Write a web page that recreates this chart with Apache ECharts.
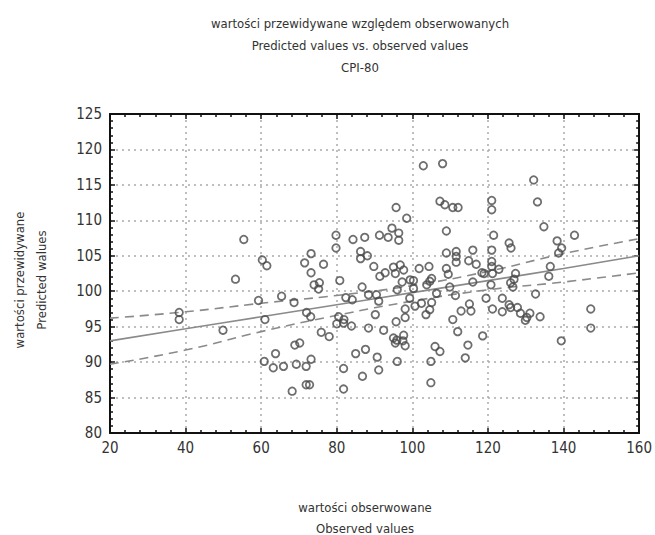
<!DOCTYPE html>
<html lang="pl">
<head>
    <meta charset="UTF-8">
    <title>CPI-80</title>
    <script src="https://cdn.jsdelivr.net/npm/echarts@6/dist/echarts.min.js"></script>
    <style>
        html, body { margin: 0; padding: 0; background: #fff; }
        #main { width: 655px; height: 535px; }
    </style>
</head>
<body>
<div id="main"></div>
<script>
    // observed / predicted pairs
    var points = [
        [38.3, 97.0], [38.3, 96.0], [49.9, 94.5], [53.2, 101.7], [55.4, 107.3], [59.3, 98.7], [60.3, 104.4], [61.5, 103.6],
        [61.0, 96.0], [60.8, 90.1], [63.8, 91.2], [63.2, 89.2], [65.9, 89.4], [65.4, 99.3], [68.7, 98.4], [68.2, 85.9],
        [69.3, 89.7], [68.9, 92.4], [70.2, 92.7], [71.9, 89.4], [73.2, 90.4], [71.9, 86.8], [72.8, 86.8], [72.0, 97.0],
        [73.1, 96.4], [73.2, 105.3], [71.5, 104.0], [76.5, 103.8], [73.2, 102.6], [74.0, 100.9], [75.2, 100.3], [75.4, 101.2],
        [75.9, 94.2], [78.0, 93.6], [79.8, 107.9], [79.8, 106.1], [84.3, 107.3], [87.4, 107.6], [91.3, 107.9], [93.6, 107.6],
        [94.6, 108.9], [96.4, 108.2], [96.4, 107.2], [95.7, 111.8], [98.5, 110.3], [102.9, 117.7], [108.0, 118.0],
        [86.3, 105.6], [86.3, 104.6], [88.1, 105.0], [89.8, 103.5], [80.8, 101.5], [82.4, 99.1], [84.1, 98.8], [86.7, 100.6],
        [88.4, 99.5], [90.5, 99.5], [91.1, 98.6], [90.2, 96.7], [80.5, 96.4], [81.9, 96.0], [80.0, 95.4], [81.8, 95.5],
        [83.9, 95.1], [88.4, 94.8], [92.4, 94.5], [95.7, 95.7], [85.0, 91.2], [87.6, 91.8], [90.7, 90.7], [91.1, 88.9],
        [86.8, 88.0], [81.8, 89.1], [81.8, 86.2], [95.0, 103.4], [96.8, 103.7], [92.8, 102.6], [91.4, 102.1], [95.5, 102.5],
        [97.7, 103.0], [95.5, 92.7], [95.0, 93.4], [95.9, 93.1], [97.5, 93.0], [98.1, 92.3], [97.7, 93.8], [96.0, 90.1],
        [98.1, 97.5], [98.1, 96.3], [100.7, 97.9], [102.4, 98.3], [105.1, 98.4], [104.6, 97.4], [103.6, 96.7],
        [96.0, 100.2], [97.3, 101.3], [99.4, 101.6], [100.3, 100.4], [103.8, 100.9], [104.6, 101.4], [106.4, 99.7], [99.3, 99.0],
        [101.8, 103.2], [104.4, 103.5], [100.3, 101.5], [105.1, 101.8], [104.9, 90.1], [104.9, 87.1], [106.0, 92.2], [107.3, 91.5],
        [107.3, 112.7], [108.6, 112.2], [110.7, 111.8], [112.1, 111.8], [109.0, 108.5], [109.0, 105.4], [111.6, 105.6],
        [111.6, 104.9], [111.6, 104.1], [116.0, 105.8], [114.9, 104.3], [116.9, 103.8], [109.0, 103.2], [109.5, 102.4],
        [109.9, 100.6], [111.4, 99.4], [116.0, 101.3], [118.4, 102.6], [119.0, 102.5], [121.0, 112.8], [121.0, 111.5],
        [133.1, 112.6], [132.1, 115.7], [134.8, 109.1], [138.3, 107.1], [139.5, 106.1], [138.7, 105.4], [142.9, 107.9],
        [121.5, 107.9], [125.6, 106.8], [126.1, 106.1], [121.0, 105.8], [121.0, 104.2], [121.0, 103.5], [122.9, 103.1],
        [121.2, 102.5], [127.3, 102.5], [126.9, 101.7], [126.6, 100.6], [136.5, 103.5], [136.1, 102.1], [120.8, 100.9],
        [126.0, 101.2], [112.9, 97.2], [115.1, 98.2], [115.5, 97.2], [110.7, 96.0], [112.0, 94.3], [114.7, 92.4], [114.0, 90.6],
        [118.6, 93.7], [119.5, 99.0], [123.8, 99.0], [125.6, 98.1], [121.2, 97.5], [123.8, 97.1], [126.0, 97.7], [127.8, 97.7],
        [128.6, 96.9], [129.9, 95.9], [130.3, 96.3], [131.1, 96.9], [133.8, 96.4], [132.6, 99.6], [147.2, 97.5], [147.2, 94.8],
        [139.4, 93.0]
    ];

    // regression line and 95% band, read at these x values
    var fitX = [20, 40, 60, 80, 100, 120, 140, 160];
    var fitLine = [93.0, 94.7, 96.4, 98.1, 99.8, 101.5, 103.2, 105.0];
    var upperBand = [96.2, 97.1, 98.3, 99.4, 100.8, 102.8, 105.3, 107.4];
    var lowerBand = [89.7, 91.7, 94.3, 96.6, 98.6, 100.2, 101.3, 102.6];

    var titleLines = ['wartości przewidywane względem obserwowanych', 'Predicted values vs. observed values', 'CPI-80'];
    var xNameLines = ['wartości obserwowane', 'Observed values'];
    var yNameLines = ['wartości przewidywane', 'Predicted walues'];

    var font = "'DejaVu Sans Condensed', 'Liberation Sans Narrow', sans-serif";

    function zip(xs, ys) {
        return xs.map(function (x, i) { return [x, ys[i]]; });
    }

    var frameAxis = {
        type: 'value',
        axisLine: { show: true, onZero: false, lineStyle: { color: '#111', width: 2 } },
        axisTick: { show: true, inside: true, length: 5, lineStyle: { color: '#111', width: 1.5 } },
        minorTick: { show: true, splitNumber: 5, length: 3, lineStyle: { color: '#111', width: 1.5 } },
        splitLine: { show: false },
        axisLabel: { show: false }
    };

    function makeAxis(extra) {
        return Object.assign(JSON.parse(JSON.stringify(frameAxis)), extra);
    }

    var labelStyle = { show: true, color: '#333', fontSize: 15, fontFamily: font };
    var gridLine = { show: true, lineStyle: { color: '#aaa', type: [2, 4], width: 1.5 } };

    var myChart = echarts.init(document.getElementById('main'), null, { renderer: 'svg' });
    var option = {
        animation: false,
        backgroundColor: '#fff',
        title: {
            text: titleLines.join('\n'),
            left: 355,
            top: 7,
            textAlign: 'center',
            textStyle: { fontFamily: font, fontSize: 13, fontWeight: 'normal', color: '#333', lineHeight: 22 }
        },
        grid: { left: 110, right: 9, top: 114, bottom: 102 },
        xAxis: [
            makeAxis({ min: 20, max: 160, interval: 20, position: 'bottom',
                axisLabel: Object.assign({ margin: 7 }, labelStyle), splitLine: gridLine }),
            makeAxis({ min: 20, max: 160, interval: 20, position: 'top' })
        ],
        yAxis: [
            makeAxis({ min: 80, max: 125, interval: 5, position: 'left',
                axisLabel: Object.assign({ margin: 8 }, labelStyle), splitLine: gridLine }),
            makeAxis({ min: 80, max: 125, interval: 5, position: 'right' })
        ],
        graphic: [
            {
                type: 'text', x: 365, y: 497,
                style: { text: xNameLines.join('\n'), font: '13px ' + font, fill: '#333',
                    textAlign: 'center', lineHeight: 21 }
            },
            {
                type: 'text', x: 8, y: 280, rotation: Math.PI / 2,
                style: { text: yNameLines.join('\n'), font: '13px ' + font, fill: '#333',
                    textAlign: 'center', textVerticalAlign: 'top', lineHeight: 22 }
            }
        ],
        series: [
            {
                type: 'line', data: zip(fitX, fitLine), smooth: true, symbol: 'none',
                lineStyle: { color: '#8a8a8a', width: 1.6 }, z: 2
            },
            {
                type: 'line', data: zip(fitX, upperBand), smooth: true, symbol: 'none',
                lineStyle: { color: '#8a8a8a', width: 1.6, type: [9, 6] }, z: 2
            },
            {
                type: 'line', data: zip(fitX, lowerBand), smooth: true, symbol: 'none',
                lineStyle: { color: '#8a8a8a', width: 1.6, type: [9, 6] }, z: 2
            },
            {
                type: 'scatter', data: points, symbol: 'circle', symbolSize: 7.5,
                itemStyle: { color: 'rgba(0,0,0,0)', borderColor: '#4a4a4a', borderWidth: 1.8 }, z: 3
            }
        ]
    };
    myChart.setOption(option);
</script>
</body>
</html>
